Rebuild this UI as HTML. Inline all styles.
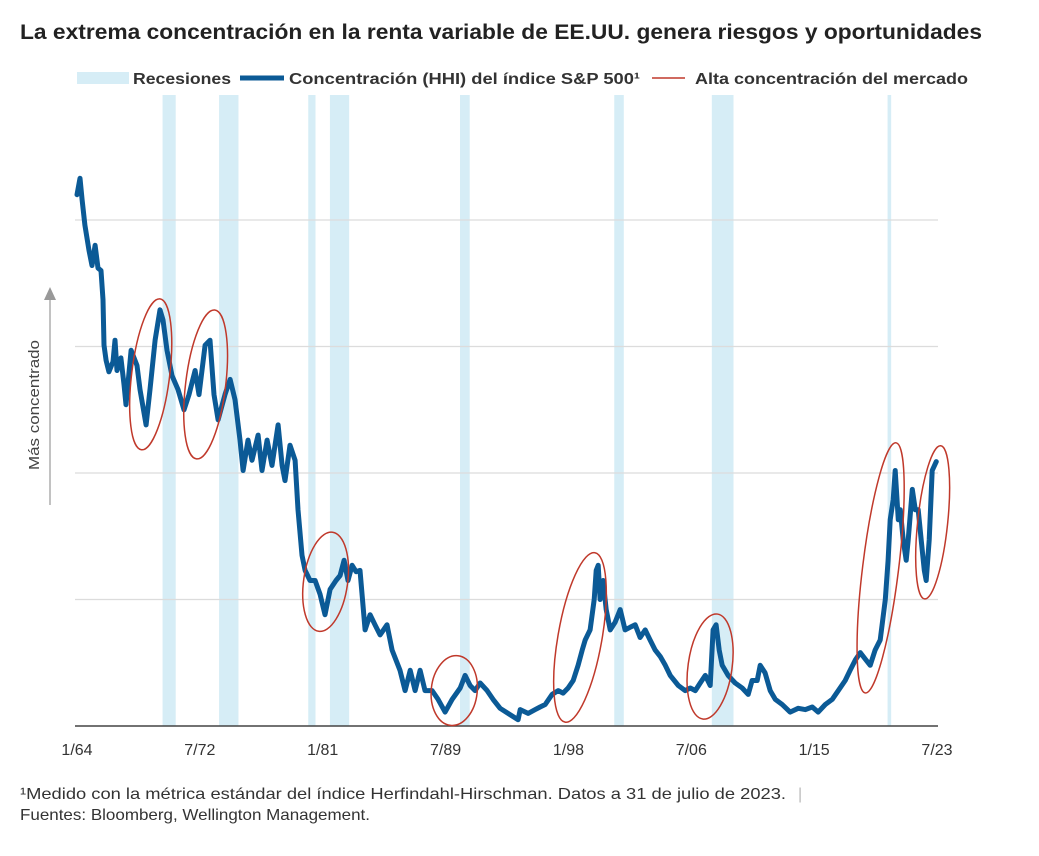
<!DOCTYPE html>
<html><head><meta charset="utf-8"><style>
body{margin:0;background:#fff;width:1039px;height:851px;overflow:hidden;font-family:"Liberation Sans",sans-serif}
</style></head><body>
<svg width="1039" height="851" viewBox="0 0 1039 851">
<text x="20" y="39" font-size="21" font-weight="bold" fill="#222" textLength="962" lengthAdjust="spacingAndGlyphs">La extrema concentración en la renta variable de EE.UU. genera riesgos y oportunidades</text>
<g font-size="16" font-weight="bold" fill="#333">
<rect x="77" y="72" width="52" height="12" fill="#d6edf6"/>
<text x="133" y="84" textLength="98" lengthAdjust="spacingAndGlyphs">Recesiones</text>
<line x1="240" y1="78" x2="284" y2="78" stroke="#0b5a96" stroke-width="5"/>
<text x="289" y="84" textLength="351" lengthAdjust="spacingAndGlyphs">Concentración (HHI) del índice S&amp;P 500¹</text>
<line x1="652" y1="78" x2="685" y2="78" stroke="#c0392b" stroke-width="1.5"/>
<text x="695" y="84" textLength="273" lengthAdjust="spacingAndGlyphs">Alta concentración del mercado</text>
</g>
<g id="plot"></g>
<g>
<line x1="50" y1="505" x2="50" y2="296" stroke="#999" stroke-width="1.2"/>
<polygon points="44,300 56,300 50,287" fill="#999"/>
<text transform="translate(39,470) rotate(-90)" font-size="15" fill="#444" textLength="130" lengthAdjust="spacingAndGlyphs">Más concentrado</text>
</g>
<text x="20" y="799" font-size="16" fill="#333" textLength="766" lengthAdjust="spacingAndGlyphs">¹Medido con la métrica estándar del índice Herfindahl-Hirschman. Datos a 31 de julio de 2023.</text>
<text x="798" y="799" font-size="16" fill="#bbb">|</text>
<text x="20" y="820" font-size="16" fill="#333" textLength="350" lengthAdjust="spacingAndGlyphs">Fuentes: Bloomberg, Wellington Management.</text>
</svg>
<script>
const years=[1964.00,1964.21,1964.35,1964.55,1964.83,1965.04,1965.25,1965.45,1965.66,1965.80,1965.87,1966.01,1966.21,1966.49,1966.63,1966.77,1967.04,1967.25,1967.39,1967.74,1968.15,1968.36,1968.78,1969.05,1969.40,1969.74,1969.95,1970.23,1970.57,1970.99,1971.40,1971.75,1972.17,1972.44,1972.86,1973.20,1973.48,1973.76,1974.24,1974.59,1974.93,1975.28,1975.49,1975.83,1976.11,1976.53,1976.80,1977.15,1977.49,1977.91,1978.19,1978.39,1978.74,1979.09,1979.29,1979.57,1979.78,1980.12,1980.47,1980.82,1981.16,1981.51,1981.92,1982.20,1982.48,1982.75,1983.03,1983.31,1983.58,1983.93,1984.28,1984.62,1984.97,1985.45,1985.80,1986.35,1986.70,1987.05,1987.39,1987.74,1988.08,1988.57,1988.98,1989.47,1989.95,1990.51,1990.85,1991.20,1991.54,1991.89,1992.37,1992.79,1993.27,1993.96,1994.52,1994.66,1995.21,1995.70,1996.04,1996.39,1996.87,1997.29,1997.63,1997.98,1998.33,1998.67,1998.95,1999.16,1999.50,1999.78,1999.92,2000.06,2000.19,2000.40,2000.61,2000.89,2001.23,2001.58,2001.92,2002.27,2002.62,2002.96,2003.31,2003.65,2004.00,2004.35,2004.70,2005.04,2005.60,2006.08,2006.43,2006.78,2007.12,2007.47,2007.81,2008.01,2008.22,2008.43,2008.64,2009.05,2009.54,2010.02,2010.44,2010.71,2011.06,2011.27,2011.61,2011.96,2012.31,2012.79,2013.34,2013.90,2014.38,2014.87,2015.28,2015.77,2016.25,2016.67,2017.15,2017.49,2017.84,2018.19,2018.53,2018.88,2019.22,2019.57,2019.92,2020.12,2020.26,2020.47,2020.61,2020.82,2020.96,2021.16,2021.37,2021.51,2021.79,2022.00,2022.20,2022.41,2022.62,2022.75,2022.96,2023.17,2023.45];
const hhi=[4.20,4.33,4.16,3.96,3.76,3.64,3.80,3.62,3.60,3.37,3.01,2.89,2.80,2.88,3.05,2.81,2.91,2.70,2.54,2.97,2.85,2.66,2.38,2.66,3.05,3.29,3.21,2.97,2.77,2.66,2.50,2.62,2.81,2.62,3.01,3.05,2.62,2.42,2.62,2.74,2.58,2.26,2.02,2.26,2.10,2.30,2.02,2.26,2.06,2.38,2.06,1.94,2.22,2.10,1.71,1.35,1.23,1.15,1.15,1.04,0.88,1.08,1.15,1.19,1.31,1.15,1.27,1.22,1.23,0.76,0.88,0.80,0.72,0.80,0.60,0.44,0.28,0.44,0.28,0.44,0.28,0.28,0.21,0.11,0.21,0.30,0.40,0.32,0.28,0.34,0.28,0.21,0.14,0.09,0.05,0.13,0.10,0.13,0.15,0.17,0.25,0.28,0.26,0.30,0.36,0.48,0.60,0.68,0.76,1.00,1.23,1.27,1.00,1.15,0.92,0.76,0.82,0.92,0.76,0.78,0.80,0.70,0.76,0.68,0.60,0.55,0.48,0.40,0.32,0.28,0.30,0.28,0.34,0.40,0.32,0.76,0.80,0.60,0.48,0.40,0.34,0.30,0.25,0.36,0.36,0.48,0.42,0.28,0.21,0.17,0.11,0.14,0.13,0.15,0.11,0.17,0.21,0.28,0.36,0.44,0.52,0.58,0.53,0.48,0.60,0.68,1.00,1.31,1.63,1.79,2.02,1.63,1.71,1.47,1.31,1.47,1.87,1.71,1.71,1.47,1.23,1.15,1.47,2.02,2.09];
const recessionStart=[1969.92,1973.83,1980.0,1981.5,1990.5,2001.17,2007.92,2020.08];
const recessionEnd=[1970.83,1975.17,1980.5,1982.83,1991.17,2001.83,2009.42,2020.33];
const gridValues=[1,2,3,4];
const tickYears=[1964.0,1972.5,1981.0,1989.5,1998.0,2006.5,2015.0,2023.5];
const tickLabels=["1/64","7/72","1/81","7/89","1/98","7/06","1/15","7/23"];
const circleCenterYear=[1969.1,1972.9,1981.2,1990.1,1998.8,2007.8,2019.6,2023.2];
const circleCenterVal=[2.78,2.70,1.14,0.28,0.70,0.47,1.25,1.61];
const circleRx=[19,20,22,23,22,22,18,15];
const circleRy=[76,75,50,35,86,53,126,77];
const circleRot=[7,7,8,6,10,8,7,6];

const X0=77,X1=937,Y0=726,UNIT=126.5;
const xs=y=>X0+(y-1964)/(2023.5-1964)*(X1-X0);
const ys=v=>Y0-v*UNIT;
const NS="http://www.w3.org/2000/svg";
const g=document.getElementById('plot');
function mk(t,a){const e=document.createElementNS(NS,t);for(const k in a)e.setAttribute(k,a[k]);g.appendChild(e);return e;}
recessionStart.forEach((s,i)=>{
 const e=mk('rect',{x:xs(s),y:95,width:xs(recessionEnd[i])-xs(s),height:Y0-95,fill:'#d6edf6'});
 
 
});
gridValues.forEach(v=>{
 const e=mk('line',{x1:75,x2:938,y1:ys(v),y2:ys(v),stroke:'#dcdcdc','stroke-width':1.3});
 
 
});
const base=mk('line',{x1:75,x2:938,y1:Y0,y2:Y0,stroke:'#444','stroke-width':1.5});


tickYears.forEach((t,i)=>{
 const e=mk('text',{x:xs(t),y:755,'font-size':16,fill:'#333','text-anchor':'middle'});
 e.textContent=tickLabels[i];
 
 
});
const d=years.map((y,i)=>(i?'L':'M')+xs(y).toFixed(1)+','+ys(hhi[i]).toFixed(1)).join('');
const p=mk('path',{d:d,fill:'none',stroke:'#0b5a96','stroke-width':5,'stroke-linejoin':'round','stroke-linecap':'round'});


circleCenterYear.forEach((c,i)=>{
 const cx=xs(c),cy=ys(circleCenterVal[i]);
 const e=mk('ellipse',{cx:cx,cy:cy,rx:circleRx[i],ry:circleRy[i],fill:'none',stroke:'#c0392b','stroke-width':1.5,transform:`rotate(${circleRot[i]} ${cx} ${cy})`});
 
 
});
</script>
</body></html>
